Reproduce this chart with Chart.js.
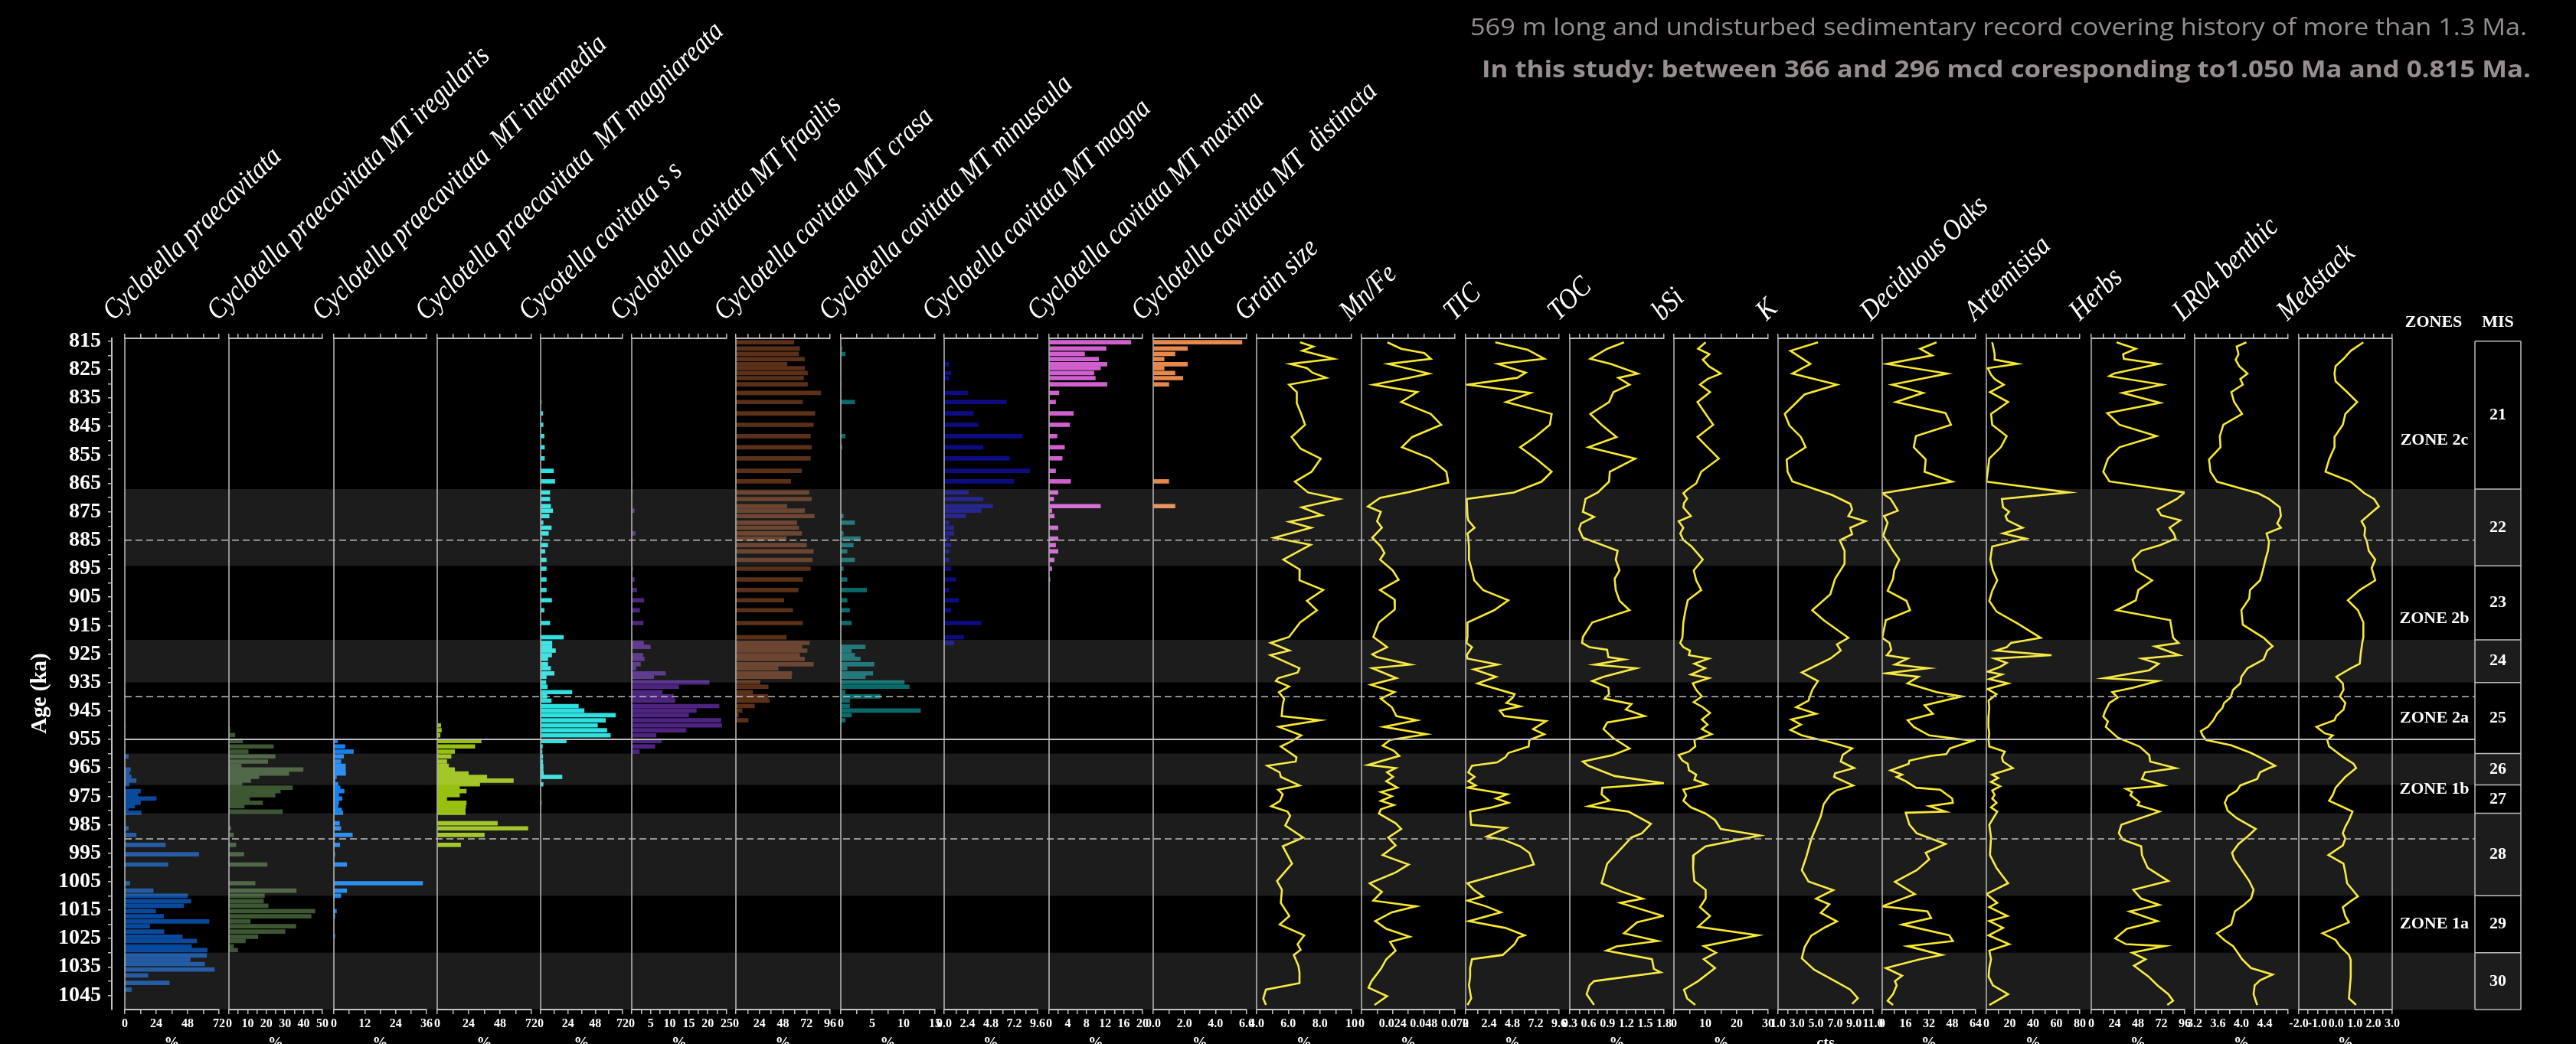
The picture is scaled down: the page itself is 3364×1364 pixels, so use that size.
<!DOCTYPE html>
<html>
<head>
<meta charset="utf-8">
<script src="https://cdn.jsdelivr.net/npm/chart.js@4.4.1/dist/chart.umd.min.js"></script>
<style>
  html, body { margin: 0; padding: 0; background: #000; overflow: hidden; }
  #page { position: relative; width: 3364px; height: 1364px; background: #000; }
  .panel { position: absolute; top: 400px; }
  #frame { position: absolute; left: 0; top: 0; pointer-events: none; }
</style>
</head>
<body>
<div id="page"></div>
<script>
// ---------- age axis, zones, marine isotope stages ----------
const ageLabels = ['815','825','835','845','855','865','875','885','895','905','915','925','935','945','955','965','975','985','995','1005','1015','1025','1035','1045'];
const zoneNames = ['ZONE 2c', 'ZONE 2b', 'ZONE 2a', 'ZONE 1b', 'ZONE 1a'];
const zoneTops = [815, 885, 940, 955, 990];
const zoneBottoms = [885, 940, 955, 990, 1050];
const zoneLineSolid = [false, false, true, false]; // boundaries at 885, 940, 955, 990
const misNames = ['21', '22', '23', '24', '25', '26', '27', '28', '29', '30'];
const misTops = [815, 867, 894, 920, 935, 960, 971, 981, 1010, 1030];
const misBottoms = [867, 894, 920, 935, 960, 971, 981, 1010, 1030, 1050];

// ---------- diatoms (%) ----------
const praecavitataAge = [950.1, 957.5, 961.0, 965.6, 967.0, 968.2, 969.5, 970.8, 973.2, 974.6, 975.8, 977.3, 978.5, 979.8, 980.8, 984.5, 986.3, 988.6, 992.1, 995.4, 999.0, 1005.6, 1008.2, 1010.0, 1011.9, 1013.5, 1015.4, 1017.2, 1019.0, 1020.7, 1022.6, 1024.4, 1025.9, 1027.8, 1029.1, 1031.0, 1032.5, 1034.0, 1035.9, 1038.0, 1040.6, 1043.0, 1045.8];
const praecavitataVal = [0.5, 0.5, 2.7, 4.3, 3.3, 4.9, 8.7, 3.3, 12, 10, 24, 12, 7.6, 2.7, 12.5, 0.5, 2.7, 8.7, 31, 56.5, 33, 3.8, 21.7, 48, 50.5, 45, 23.6, 29.6, 64.4, 19, 30, 44, 55, 51, 63, 62.5, 50, 61, 68.5, 17.7, 34, 5, 0.5];

const iregularisAge = [951.4, 953.5, 955.6, 957.5, 959.3, 961.0, 962.8, 964.3, 965.6, 967.0, 968.2, 969.5, 970.8, 972.0, 973.2, 974.6, 975.8, 977.3, 978.5, 980.4, 986.3, 988.6, 992.1, 995.4, 999.0, 1005.6, 1008.2, 1010.0, 1011.9, 1013.5, 1015.4, 1017.2, 1019.0, 1020.7, 1022.6, 1024.4, 1025.9, 1027.8, 1029.1];
const iregularisVal = [0.5, 3.2, 7.3, 23.8, 10.3, 24.7, 20.8, 6.6, 39.7, 32, 16, 11.6, 7, 34, 27.5, 24.7, 11, 18, 8.2, 28.6, 1, 2.4, 3.7, 7.9, 20.4, 14, 36, 19, 18.5, 21, 46, 44, 11.4, 35.8, 30, 15.5, 8.8, 2.4, 4.7];

const intermediaAge = [955.6, 957.5, 959.3, 961.0, 962.8, 964.3, 965.6, 967.0, 968.2, 969.5, 970.8, 972.0, 973.2, 974.6, 975.8, 977.3, 978.5, 979.8, 980.8, 984.5, 986.3, 988.6, 992.1, 995.4, 999.0, 1005.6, 1008.2, 1010.0, 1015.4, 1017.2, 1024.2];
const intermediaVal = [1.4, 4.3, 7.6, 3.8, 2.7, 4.5, 4.5, 4.6, 1, 0.5, 1.6, 2.4, 4, 1.9, 3.2, 1.9, 1.6, 3, 3.5, 2.2, 2.7, 7.2, 2.3, 0.4, 5, 34.5, 5, 2.7, 1, 0.4, 0.4];

const magniareataAge = [950.1, 951.8, 953.6, 955.6, 957.5, 959.3, 961.0, 962.8, 964.3, 965.6, 967.0, 968.2, 969.5, 970.8, 972.0, 973.2, 974.6, 975.8, 977.3, 978.5, 979.8, 980.8, 984.5, 986.3, 988.6, 992.1];
const magniareataVal = [2.7, 3.2, 2.2, 33.6, 28.7, 13.3, 10.6, 7.3, 8.7, 13.3, 23.8, 37.9, 58.2, 32.5, 17, 22.2, 17, 7.3, 22.2, 21.7, 21.4, 21.4, 46, 69.3, 36, 17.9];

const cavitataAge = [836.4, 840.4, 844.4, 848.4, 852.3, 856.2, 860.6, 864.3, 868.2, 870.5, 873.0, 874.6, 876.5, 878.8, 880.6, 882.6, 884.4, 886.7, 888.9, 891.9, 895.0, 898.8, 902.5, 906.1, 909.6, 914.1, 919.1, 921.1, 922.5, 923.8, 925.4, 926.7, 928.6, 930.0, 931.8, 933.0, 935.0, 936.5, 938.4, 939.9, 941.4, 943.3, 944.9, 946.5, 948.3, 950.1, 951.8, 953.6, 955.6, 957.5, 959.3, 961.0, 962.8, 964.3, 965.6, 967.0, 968.2, 970.8, 977.3];
const cavitataVal = [0.6, 1.9, 2.2, 3.1, 3.4, 3.4, 11.3, 12.5, 8.1, 8.1, 8.8, 10.6, 7.5, 2.2, 9.4, 6.9, 1.3, 6.3, 3.8, 5, 5, 5, 5, 9.7, 3.1, 8.1, 20, 10, 10, 13.1, 9.7, 6.3, 6.3, 8.8, 11.9, 5, 4.7, 5.9, 27.5, 5.6, 9.4, 33.2, 38.2, 65.7, 57, 50, 58.2, 61.3, 22.5, 1.6, 1.3, 1.9, 1.9, 2.2, 2.2, 2.5, 18.8, 2.2, 0.6];

const fragilisAge = [864.3, 868.2, 874.6, 882.6, 895.0, 898.8, 902.5, 906.1, 909.6, 914.1, 921.1, 922.5, 925.4, 926.7, 928.6, 930.0, 931.8, 933.0, 935.0, 936.5, 938.4, 939.9, 941.4, 943.3, 944.9, 946.5, 948.3, 950.1, 951.8, 953.6, 955.6, 957.5, 959.3];
const fragilisVal = [0.2, 0.2, 0.7, 0.9, 0.3, 0.7, 1.3, 3.2, 2.1, 3, 3.1, 4.9, 2.9, 3.3, 2.3, 1.1, 8.9, 5.8, 20.4, 12.4, 8, 11, 11.4, 23, 17, 15, 23.5, 23.7, 14.3, 6.4, 7.8, 6.1, 2];

const crasaAge = [815.4, 817.6, 819.5, 821.3, 823.1, 824.5, 826.2, 828.0, 830.2, 833.2, 836.4, 840.4, 844.4, 848.4, 852.3, 856.2, 860.6, 864.3, 868.2, 870.5, 873.0, 874.6, 876.5, 878.8, 880.6, 882.6, 884.4, 886.7, 888.9, 891.9, 895.0, 898.8, 902.5, 906.1, 909.6, 914.1, 919.1, 921.1, 922.5, 923.8, 925.4, 926.7, 928.6, 930.0, 931.8, 933.0, 935.0, 936.5, 938.4, 939.9, 941.4, 943.3, 944.9, 946.5, 948.3];
const crasaVal = [59, 65, 64, 70, 52, 70, 73, 69, 73, 86.6, 68, 80.5, 79, 76, 77, 76, 67, 56, 74.5, 77, 52, 70, 80, 62, 64, 67, 51.4, 72, 79, 78, 76, 68, 63.5, 49, 58, 68, 51.4, 75, 67.3, 72.6, 65, 70, 79, 43, 57, 56.6, 24.6, 33, 17, 32.5, 34, 19, 6.4, 2.6, 12.5];

const minusculaAge = [817.6, 819.5, 830.2, 836.4, 848.4, 852.3, 876.5, 878.8, 882.6, 884.4, 886.7, 888.9, 891.9, 895.0, 898.8, 902.5, 906.1, 909.6, 914.1, 922.5, 923.8, 925.4, 926.7, 928.6, 930.0, 931.8, 933.0, 935.0, 936.5, 938.4, 939.9, 941.4, 943.3, 944.9, 946.5, 948.3];
const minusculaVal = [0.2, 0.7, 0.1, 2.2, 0.7, 0.2, 0.4, 2.2, 0.4, 3.1, 2, 1, 2.2, 0.4, 1, 4.1, 1, 1.4, 1.7, 3.9, 1.7, 2.2, 3.1, 5.3, 1, 5.1, 3.9, 10.1, 10.9, 0.7, 6.3, 1.4, 1.4, 12.7, 1.7, 0.7];

const magnaAge = [823.1, 826.2, 828.0, 833.2, 836.4, 840.4, 844.4, 848.4, 852.3, 856.2, 860.6, 864.3, 868.2, 870.5, 873.0, 874.6, 876.5, 878.8, 880.6, 882.6, 884.4, 886.7, 888.9, 891.9, 895.0, 898.8, 902.5, 906.1, 909.6, 914.1, 919.1, 921.1];
const magnaVal = [0.5, 0.7, 0.5, 2.4, 6.4, 3, 3.5, 8, 4, 6.7, 8.8, 7.2, 2.5, 4, 5, 3.8, 2.2, 0.5, 1, 1, 0.5, 0.7, 0.5, 0.5, 0.7, 1.2, 0.5, 1.5, 0.7, 3.8, 2, 1];

const maximaAge = [815.4, 817.6, 819.5, 821.3, 823.1, 824.5, 826.2, 828.0, 830.2, 833.2, 836.4, 840.4, 844.4, 848.4, 852.3, 856.2, 860.6, 864.3, 868.2, 870.5, 873.0, 874.6, 876.5, 880.6, 884.4, 886.7, 888.9, 891.9, 895.0, 898.8];
const maximaVal = [17.5, 12.2, 7.6, 10.6, 12.4, 11, 9.6, 9.9, 12.4, 2.1, 1.4, 5.2, 4.4, 1.7, 3.3, 2.8, 1.4, 4.6, 1.9, 1, 11, 0.6, 1.1, 1.9, 1.9, 1.4, 1.9, 1.1, 0.6, 0.2];

const distinctaAge = [815.4, 817.6, 819.5, 821.3, 823.1, 824.5, 826.2, 828.0, 830.2, 864.3, 873.0];
const distinctaVal = [5.7, 2.2, 1.4, 0.7, 2.2, 0.7, 1.4, 1.9, 1, 1, 1.4];

// ---------- sediment, pollen and reference curves ----------
const grainAge = [815.4, 816.9, 818.4, 821.2, 823.0, 824.5, 826.1, 827.9, 830.3, 832.9, 836.8, 840.6, 844.4, 848.7, 852.8, 856.3, 860.9, 864.4, 868.2, 870.5, 873.4, 876.2, 878.5, 880.6, 884.1, 886.6, 891.8, 895.3, 899.1, 902.5, 906.3, 909.6, 913.9, 919.0, 921.1, 923.8, 925.4, 930.0, 931.5, 933.5, 934.5, 936.4, 938.4, 940.7, 942.9, 946.8, 948.3, 950.6, 953.6, 955.9, 957.5, 961.3, 962.8, 964.3, 966.6, 968.2, 971.2, 972.7, 974.3, 976.6, 978.5, 980.4, 981.9, 985.3, 989.5, 992.6, 998.7, 1004.8, 1007.9, 1012.5, 1017.1, 1020.1, 1023.9, 1027.0, 1029.0, 1030.8, 1034.6, 1036.9, 1040.7, 1043.0, 1046.1, 1048.4];
const grainVal = [6.75, 7.58, 6.89, 8.87, 6.12, 7.18, 7.53, 8.40, 6.05, 6.54, 6.54, 6.82, 7.06, 6.21, 6.78, 8.05, 7.48, 6.42, 7.25, 9.22, 6.85, 8.12, 6.07, 7.44, 5.11, 7.41, 5.69, 6.73, 6.71, 8.21, 7.18, 7.81, 6.75, 6.05, 4.89, 6.07, 4.87, 6.71, 6.59, 5.36, 5.22, 6.05, 5.41, 5.74, 5.65, 5.58, 8.0, 5.41, 6.82, 6.12, 5.53, 6.52, 6.47, 4.68, 5.46, 5.53, 6.71, 5.36, 5.65, 5.48, 4.92, 5.95, 6.12, 5.81, 6.94, 5.65, 6.24, 5.29, 5.6, 5.53, 6.07, 5.46, 7.01, 6.59, 6.78, 6.35, 6.64, 6.71, 6.71, 4.59, 4.42, 4.59];

const mnfeAge = [815.4, 817.7, 819.2, 821.2, 823.0, 826.4, 827.9, 830.3, 832.9, 836.4, 840.6, 844.4, 848.7, 852.3, 856.2, 860.9, 864.7, 868.1, 870.1, 873.1, 875.0, 878.3, 880.6, 884.1, 887.2, 889.5, 891.8, 895.6, 898.9, 902.5, 905.8, 909.3, 913.9, 919.0, 921.1, 922.6, 925.1, 926.1, 928.7, 930.0, 933.5, 935.8, 938.4, 940.7, 943.7, 946.8, 948.3, 950.6, 953.2, 955.2, 957.2, 959.0, 960.8, 964.0, 965.1, 966.6, 968.2, 969.7, 972.0, 973.5, 975.0, 976.6, 978.1, 979.6, 981.1, 984.5, 986.5, 989.5, 992.3, 995.7, 999.0, 1001.8, 1005.6, 1008.6, 1011.7, 1013.7, 1015.8, 1018.9, 1021.6, 1024.4, 1026.2, 1029.3, 1032.3, 1035.7, 1040.0, 1042.3, 1045.3, 1048.4];
const mnfeVal = [0.020, 0.0306, 0.0483, 0.0534, 0.0206, 0.052, 0.0363, 0.0091, 0.0429, 0.0306, 0.0534, 0.0614, 0.0391, 0.0311, 0.0529, 0.0654, 0.0669, 0.0363, 0.0143, 0.0049, 0.0149, 0.012, 0.0157, 0.0083, 0.0149, 0.0177, 0.0143, 0.024, 0.0286, 0.0143, 0.0254, 0.0257, 0.0134, 0.0091, 0.0154, 0.0197, 0.0083, 0.012, 0.0377, 0.0083, 0.0269, 0.0071, 0.0254, 0.0149, 0.0234, 0.0269, 0.0426, 0.0171, 0.05, 0.022, 0.0163, 0.0249, 0.0291, 0.0049, 0.0263, 0.0197, 0.0243, 0.0191, 0.0277, 0.0149, 0.0234, 0.0149, 0.0249, 0.0149, 0.0134, 0.0263, 0.0306, 0.0206, 0.0263, 0.0163, 0.0363, 0.0263, 0.0063, 0.0157, 0.0091, 0.042, 0.0234, 0.0106, 0.0191, 0.0371, 0.022, 0.0263, 0.0191, 0.0149, 0.0077, 0.0054, 0.0197, 0.01];

const ticAge = [815.4, 818.0, 821.2, 823.0, 826.1, 827.9, 830.3, 833.2, 836.4, 840.6, 844.4, 848.7, 852.3, 856.6, 860.9, 864.4, 868.2, 870.5, 876.5, 878.0, 880.6, 882.6, 884.1, 887.2, 891.8, 895.6, 899.1, 902.5, 906.1, 909.6, 913.9, 919.0, 921.1, 922.6, 925.4, 926.6, 928.7, 930.4, 933.0, 935.3, 939.1, 940.3, 942.2, 943.4, 944.9, 946.8, 948.6, 951.4, 953.2, 955.2, 957.5, 959.8, 961.3, 963.1, 964.3, 966.6, 968.2, 969.7, 971.2, 972.0, 974.3, 975.8, 977.3, 978.9, 980.4, 985.0, 986.2, 989.2, 990.3, 992.6, 994.9, 999.0, 1005.6, 1007.9, 1010.2, 1011.7, 1013.7, 1015.8, 1018.9, 1021.3, 1023.9, 1024.7, 1027.0, 1030.8, 1032.3, 1035.4, 1038.4, 1041.5, 1046.1, 1048.4];
const ticVal = [3.05, 6.36, 8.08, 3.31, 6.17, 5.30, 0.19, 6.67, 4.15, 8.84, 8.65, 7.12, 5.60, 7.32, 8.84, 7.81, 4.95, 0.11, 0.19, 0.27, 0.91, 0.19, 0.27, 0.34, 0.34, 0.65, 0.88, 1.79, 4.38, 2.93, 0.19, 0.19, 0.08, 0.65, 0.11, 0.19, 3.31, 0.84, 3.12, 1.22, 5.03, 4.84, 4.19, 5.60, 3.51, 3.96, 8.27, 6.93, 8.08, 6.55, 6.48, 4.38, 4.08, 3.24, 0.65, 0.27, 0.91, 0.27, 1.03, 0.19, 4.27, 3.12, 4.38, 2.74, 0.46, 0.57, 4.15, 2.17, 3.89, 5.60, 6.55, 7.01, 0.19, 0.84, 1.79, 0.19, 2.10, 3.62, 0.34, 4.08, 6.06, 5.41, 5.03, 3.81, 0.65, 0.46, 0.46, 0.34, 0.57, 0.19];

const tocAge = [815.4, 817.7, 821.2, 823.0, 826.4, 827.9, 830.3, 832.9, 836.4, 840.6, 844.4, 848.7, 852.3, 856.3, 860.9, 864.4, 868.2, 870.5, 873.1, 875.0, 876.8, 879.1, 881.1, 884.1, 888.7, 891.8, 895.6, 898.6, 902.5, 906.3, 909.6, 913.9, 919.0, 921.1, 922.6, 923.5, 926.1, 926.9, 928.7, 930.0, 933.0, 934.5, 936.8, 939.1, 940.7, 942.6, 944.5, 946.8, 949.1, 951.4, 954.4, 958.2, 960.5, 962.8, 964.3, 967.9, 970.4, 972.0, 974.3, 976.6, 978.5, 980.4, 984.7, 988.0, 989.5, 998.7, 1005.6, 1008.6, 1011.0, 1012.5, 1017.1, 1019.3, 1023.2, 1025.9, 1027.8, 1029.3, 1032.3, 1035.7, 1036.9, 1040.0, 1041.5, 1044.6, 1048.4];
const tocVal = [1.163, 0.895, 0.627, 0.955, 1.383, 1.074, 1.252, 0.996, 0.925, 0.627, 0.806, 1.044, 0.598, 1.342, 0.937, 0.925, 0.746, 0.55, 0.526, 0.508, 0.687, 0.479, 0.449, 0.508, 1.062, 1.032, 1.092, 1.014, 1.032, 1.092, 1.252, 0.657, 0.508, 0.496, 0.615, 0.895, 0.913, 1.163, 0.699, 1.354, 0.836, 0.657, 0.913, 0.925, 0.854, 1.282, 1.193, 1.49, 0.895, 0.836, 0.984, 1.252, 0.984, 0.508, 0.598, 1.014, 1.794, 0.818, 0.806, 0.925, 0.598, 1.234, 1.592, 1.449, 1.282, 0.895, 0.806, 1.133, 1.46, 1.104, 1.788, 1.371, 1.163, 1.699, 1.044, 0.883, 1.609, 1.639, 1.746, 0.687, 0.615, 0.568, 0.687];

const bsiAge = [815.4, 817.7, 819.6, 821.5, 823.8, 826.4, 828.3, 830.3, 832.9, 836.4, 840.6, 844.4, 848.7, 852.3, 856.3, 860.9, 865.0, 867.3, 868.5, 870.4, 871.9, 873.4, 876.5, 878.3, 880.6, 882.6, 884.9, 887.2, 891.8, 895.6, 899.1, 902.5, 906.1, 910.1, 913.9, 919.3, 921.1, 922.6, 923.8, 925.4, 926.6, 928.4, 930.0, 932.2, 933.5, 935.3, 937.6, 939.9, 941.9, 943.7, 945.7, 948.0, 949.8, 951.4, 953.2, 955.2, 957.5, 959.3, 960.5, 962.5, 963.6, 965.9, 967.4, 969.2, 970.8, 972.7, 974.7, 976.6, 978.9, 981.1, 983.4, 986.5, 988.8, 992.6, 995.7, 1000.2, 1004.8, 1007.9, 1011.0, 1014.0, 1017.1, 1020.9, 1023.9, 1027.7, 1030.0, 1032.3, 1035.4, 1040.0, 1043.0, 1046.1, 1048.4];
const bsiVal = [10.1, 7.7, 11.3, 9.2, 11.1, 14.9, 10.7, 8.3, 11.5, 7.5, 10.1, 12.5, 7.5, 10.7, 14.3, 8.7, 7.1, 4.2, 3.0, 4.2, 3.2, 3.0, 5.4, 1.5, 3.0, 2.0, 3.0, 5.6, 9.2, 6.3, 7.1, 8.7, 4.4, 3.6, 3.0, 2.7, 2.0, 3.0, 5.1, 4.8, 11.1, 6.5, 9.9, 5.4, 11.1, 6.0, 7.1, 8.9, 6.3, 9.2, 11.5, 8.9, 10.7, 8.9, 12.0, 6.5, 6.8, 4.8, 1.5, 2.7, 4.4, 4.8, 7.1, 6.5, 10.4, 3.0, 3.9, 3.0, 5.4, 10.1, 13.1, 14.9, 27.4, 10.1, 6.3, 6.1, 6.5, 10.1, 10.1, 8.3, 11.5, 7.7, 26.8, 9.5, 13.4, 9.5, 13.1, 7.7, 3.2, 4.2, 6.8];

const kAge = [815.4, 818.4, 823.0, 826.4, 830.3, 833.7, 840.6, 844.7, 848.7, 852.3, 856.6, 860.9, 864.3, 869.1, 872.2, 874.2, 876.5, 878.3, 880.6, 882.9, 885.0, 888.7, 893.3, 898.6, 904.0, 909.6, 913.1, 919.3, 921.6, 923.8, 926.6, 931.5, 934.5, 937.6, 941.4, 943.7, 946.0, 948.0, 949.8, 951.7, 953.6, 956.0, 958.2, 960.5, 962.8, 965.1, 966.9, 968.2, 971.2, 973.0, 974.5, 977.8, 982, 986, 990, 996, 1001, 1005, 1008, 1011, 1013, 1016, 1019, 1021, 1024, 1028, 1032, 1036, 1040, 1043, 1046, 1048];
const kVal = [5.2, 2.3, 4.4, 2.5, 7.2, 3.8, 1.7, 2.2, 3.4, 3.9, 1.9, 2.0, 2.5, 6.7, 8.6, 8.8, 8.4, 10.2, 8.6, 8.8, 7.5, 8.0, 8.0, 7.0, 6.5, 4.6, 5.8, 8.4, 7.2, 7.6, 6.5, 3.5, 5.2, 4.6, 4.2, 2.9, 5.0, 2.4, 3.4, 2.3, 3.5, 6.5, 8.8, 7.8, 7.6, 9.0, 7.0, 6.9, 8.9, 7.1, 6.5, 5.8, 5.5, 5.0, 4.5, 4.0, 3.5, 4.2, 6.8, 5.0, 6.4, 5.5, 7.2, 6.0, 4.5, 3.8, 3.5, 4.8, 7.0, 8.6, 9.4, 8.8];

const oaksAge = [815.4, 817.7, 820.0, 823.0, 826.4, 830.3, 833.2, 836.4, 840.3, 844.4, 848.4, 852.3, 856.6, 860.9, 864.4, 868.5, 870.4, 874.6, 876.5, 878.8, 880.6, 883.4, 885.6, 888.7, 891.8, 895.6, 898.6, 902.8, 906.3, 909.6, 913.1, 919.3, 921.1, 923.5, 925.4, 926.6, 928.7, 930.0, 931.8, 933.0, 935.3, 938.4, 939.9, 943.0, 946.0, 948.3, 950.6, 953.6, 955.5, 958.2, 960.2, 960.8, 962.5, 963.6, 965.9, 967.4, 968.2, 969.7, 972.0, 972.7, 975.8, 977.3, 978.5, 980.4, 980.8, 985.0, 988.0, 991.8, 994.9, 997.2, 1001.0, 1005.1, 1009.4, 1013.7, 1015.5, 1017.8, 1020.1, 1023.9, 1025.9, 1027.7, 1030.8, 1032.3, 1035.4, 1038.1, 1040.0, 1041.5, 1044.6, 1046.9, 1048.4];
const oaksVal = [37.2, 26.0, 34.2, 3.2, 44.6, 6.7, 28.0, 9.4, 43.4, 47.1, 23.1, 21.6, 29.8, 29.0, 47.9, 0, 5.7, 10.7, 1.2, 3.7, 2.5, 0.7, 3.7, 7.4, 11.7, 8.2, 7.4, 3.7, 16.6, 19.1, 2.5, 0, 5.0, 6.2, 3.2, 17.4, 8.7, 31.5, 2.5, 24.8, 17.4, 37.2, 54.6, 29.0, 34.7, 17.4, 21.6, 32.2, 62.0, 46.4, 43.9, 33.5, 18.6, 18.1, 5.7, 13.6, 9.9, 16.1, 23.1, 39.7, 47.9, 48.4, 32.2, 43.4, 16.1, 18.6, 23.6, 43.4, 29.8, 32.2, 23.6, 8.7, 22.3, 0, 31.0, 33.5, 13.6, 45.9, 48.4, 17.4, 40.9, 26.0, 2.5, 13.6, 8.7, 9.9, 7.4, 3.7, 7.4];

const artemisiaAge = [815.4, 817.7, 819.6, 821.5, 823.0, 824.5, 826.8, 828.3, 830.3, 832.9, 836.4, 840.6, 844.4, 848.4, 852.3, 856.3, 860.9, 864.4, 868.2, 870.5, 873.4, 875.0, 876.5, 878.0, 880.6, 882.6, 884.4, 887.2, 891.8, 895.6, 899.1, 902.8, 906.3, 910.1, 914.4, 919.3, 921.1, 922.6, 923.8, 925.4, 926.6, 928.1, 929.5, 931.2, 932.2, 933.8, 935.3, 937.3, 939.1, 941.4, 943.7, 946.8, 949.1, 950.6, 952.9, 955.2, 957.5, 959.3, 961.3, 962.8, 965.1, 967.4, 968.6, 970.0, 971.5, 973.0, 974.5, 975.8, 977.3, 978.9, 980.4, 985.0, 989.5, 995.7, 1000.2, 1005.6, 1009.4, 1012.5, 1014.0, 1017.1, 1018.9, 1021.3, 1023.9, 1027.0, 1029.3, 1032.3, 1035.4, 1038.4, 1041.5, 1044.6, 1048.4];
const artemisiaVal = [5.0, 6.2, 7.1, 7.1, 26.7, 1.2, 4.0, 7.1, 14.9, 3.1, 18.6, 4.0, 5.0, 17.4, 12.4, 2.5, 1.2, 0, 70.7, 13.3, 14.3, 19.5, 16.4, 18.0, 31.0, 14.3, 33.5, 5.0, 3.4, 5.6, 9.3, 5.0, 2.5, 8.7, 27.3, 46.5, 21.1, 17.4, 8.1, 55.8, 7.1, 17.4, 11.8, 0.9, 13.3, 2.5, 18.6, 0.9, 8.7, 1.9, 2.5, 1.9, 1.9, 1.6, 2.5, 1.9, 2.5, 15.8, 13.3, 14.3, 22.6, 5.0, 10.2, 4.0, 11.8, 5.0, 7.1, 5.0, 8.7, 4.0, 9.3, 2.5, 4.0, 3.1, 8.7, 18.6, 0, 9.3, 2.5, 18.0, 2.5, 14.3, 1.9, 19.5, 2.5, 4.0, 2.5, 1.9, 5.6, 18.6, 2.5];

const herbsAge = [815.4, 817.7, 819.6, 821.2, 823.0, 826.4, 827.3, 830.3, 833.2, 836.7, 840.3, 844.4, 848.4, 852.3, 856.3, 860.9, 864.3, 868.2, 870.5, 874.2, 876.2, 878.0, 880.6, 882.6, 884.4, 886.7, 888.7, 891.8, 894.1, 895.6, 899.1, 902.5, 906.1, 909.6, 913.1, 919.3, 921.1, 922.3, 925.4, 926.6, 928.4, 930.7, 933.5, 934.5, 936.8, 938.4, 940.3, 942.2, 945.2, 947.0, 948.7, 950.6, 954.4, 957.5, 960.5, 962.8, 965.1, 966.6, 968.9, 971.2, 972.4, 973.5, 974.6, 977.0, 978.1, 980.4, 985.0, 988.0, 990.3, 992.6, 995.7, 1000.2, 1004.8, 1007.9, 1011.0, 1013.2, 1015.5, 1018.9, 1021.6, 1025.0, 1027.0, 1027.7, 1030.0, 1032.3, 1034.6, 1038.4, 1041.5, 1044.6, 1046.9, 1048.4];
const herbsVal = [26.0, 45.8, 32.7, 33.5, 69.2, 23.4, 18.6, 72.9, 32.0, 70.7, 16.4, 29.0, 67.0, 29.0, 17.1, 12.3, 18.6, 96.0, 87.8, 68.1, 71.8, 91.5, 80.4, 84.8, 86.7, 70.7, 51.3, 42.4, 44.6, 45.8, 62.5, 48.4, 45.8, 26.0, 81.1, 84.1, 89.7, 65.5, 90.4, 52.1, 69.2, 59.5, 13.4, 68.1, 43.9, 21.6, 27.2, 18.6, 14.1, 12.3, 17.1, 14.9, 27.2, 49.5, 59.5, 60.6, 86.7, 55.1, 52.1, 74.4, 35.7, 42.0, 40.2, 49.5, 47.6, 69.9, 30.9, 28.3, 32.7, 51.3, 52.1, 58.0, 79.2, 43.2, 51.3, 69.9, 39.4, 68.1, 36.5, 24.6, 35.7, 75.5, 42.0, 55.8, 43.9, 58.8, 68.1, 79.2, 84.1, 78.1];

const lr04Age = [815.4, 816.9, 819.6, 821.5, 823.8, 826.4, 828.3, 830.3, 832.9, 836.4, 840.6, 844.4, 848.4, 852.3, 856.6, 860.9, 864.4, 868.5, 870.5, 873.4, 876.5, 879.1, 880.6, 882.6, 885.6, 888.7, 891.8, 895.6, 899.1, 902.5, 905.5, 909.6, 914.7, 919.3, 922.3, 923.8, 926.9, 930.0, 933.0, 935.3, 937.6, 940.3, 942.2, 944.0, 946.0, 948.3, 950.6, 952.1, 953.6, 955.2, 957.1, 959.8, 961.7, 964.3, 965.1, 966.6, 968.9, 971.2, 973.1, 975.0, 977.3, 980.1, 982.7, 986.5, 989.2, 991.8, 994.9, 997.2, 1000.2, 1004.8, 1007.9, 1011.0, 1013.2, 1015.5, 1020.1, 1023.2, 1025.5, 1027.7, 1030.0, 1032.3, 1035.4, 1037.7, 1039.7, 1041.5, 1044.6, 1048.4];
const lr04Val = [4.086, 3.92, 3.951, 3.902, 3.963, 4.105, 3.982, 4.025, 3.828, 3.877, 4.012, 3.692, 3.631, 3.643, 3.446, 3.471, 3.582, 4.289, 4.474, 4.658, 4.677, 4.615, 4.677, 4.431, 4.474, 4.455, 4.412, 4.369, 4.32, 4.148, 4.135, 4.0, 4.025, 4.382, 4.535, 4.443, 4.382, 4.105, 4.0, 3.982, 3.858, 3.815, 3.705, 3.674, 3.582, 3.52, 3.428, 3.305, 3.335, 3.397, 3.828, 4.166, 4.351, 4.578, 4.474, 4.32, 4.271, 3.982, 3.92, 3.766, 3.717, 3.766, 3.92, 4.246, 4.105, 3.951, 3.84, 3.877, 3.982, 4.135, 4.209, 4.166, 4.043, 3.889, 3.828, 3.582, 3.705, 3.858, 3.938, 4.012, 4.166, 4.535, 4.32, 4.228, 4.209, 4.271];

const medstackAge = [815.4, 818.4, 821.2, 823.8, 826.4, 829.1, 832.9, 836.4, 840.6, 844.4, 848.7, 852.3, 856.6, 860.9, 864.4, 868.5, 870.5, 873.1, 875.0, 878.3, 880.6, 883.4, 885.6, 888.7, 891.8, 894.8, 899.1, 902.5, 906.1, 909.6, 913.9, 919.0, 921.1, 924.6, 928.4, 930.0, 933.0, 935.3, 937.6, 939.9, 942.2, 944.5, 946.8, 948.3, 950.6, 952.9, 953.6, 955.2, 957.5, 961.3, 963.6, 965.1, 968.2, 972.0, 974.6, 976.6, 978.9, 980.4, 983.4, 985.7, 988.0, 989.9, 992.3, 995.7, 998.7, 1001.8, 1005.6, 1010.2, 1011.7, 1014.0, 1017.1, 1019.3, 1020.9, 1023.2, 1025.5, 1027.7, 1030.8, 1032.6, 1036.1, 1038.4, 1041.5, 1046.1, 1048.4];
const medstackVal = [1.455, 0.779, 0.393, -0.031, -0.089, -0.031, 0.586, 1.127, 0.49, 0.355, -0.089, -0.089, -0.379, -0.572, 0.779, 1.513, 2.034, 2.285, 1.937, 1.358, 1.551, 1.513, 1.648, 1.744, 2.092, 1.899, 2.092, 1.262, 0.625, 1.165, 1.455, 1.455, 1.397, 1.32, 1.262, 0.779, 0.007, 0.355, 0.393, 0.2, 0.49, 0.393, 0.007, -0.089, -1.054, -0.61, -0.186, -0.475, -0.379, 0.393, 0.934, 1.069, 0.49, -0.031, -0.186, -0.379, 0.393, 0.876, 0.683, 0.49, 0.355, 0.49, 0.355, -0.417, 0.393, 0.49, 0.586, 1.165, 0.818, 0.355, 0.49, 0.683, 0.104, -0.727, -0.031, 0.2, 0.683, 0.779, 0.779, 0.779, 0.741, 0.683, 1.069];

// ---------- layout ----------
const AGE_MIN = 814, AGE_MAX = 1050;
const AXIS_COL = '#bdbdbd';
const LINE_COL = '#f8e830';
const PAD = 26;
const SERIF = '"Liberation Serif", "Times New Roman", serif';
const ZONE_L = 3124, MIS_L = 3232, MIS_R = 3292;

const panels = [
  {title: 'Cyclotella praecavitata', left: 163, width: 123, kind: 'bar', color: '#0a4a9c', ages: praecavitataAge, vals: praecavitataVal, min: 0, max: 72, step: 12, labels: ['0','24','48','72'], unit: '%'},
  {title: 'Cyclotella praecavitata MT iregularis', left: 299, width: 122, kind: 'bar', color: '#3c5732', ages: iregularisAge, vals: iregularisVal, min: 0, max: 50, step: 5, labels: ['0','10','20','30','40','50'], unit: '%'},
  {title: 'Cyclotella praecavitata  MT intermedia', left: 436, width: 121, kind: 'bar', color: '#1682ee', ages: intermediaAge, vals: intermediaVal, min: 0, max: 36, step: 6, labels: ['0','12','24','36'], unit: '%'},
  {title: 'Cyclotella praecavitata  MT magniareata', left: 571, width: 123, kind: 'bar', color: '#98c010', ages: magniareataAge, vals: magniareataVal, min: 0, max: 72, step: 12, labels: ['0','24','48','72'], unit: '%'},
  {title: 'Cycotella cavitata s s', left: 706, width: 107, kind: 'bar', color: '#2ee0e0', ages: cavitataAge, vals: cavitataVal, min: 0, max: 72, step: 12, labels: ['0','24','48','72'], unit: '%'},
  {title: 'Cyclotella cavitata MT fragilis', left: 825, width: 124, kind: 'bar', color: '#4d2580', ages: fragilisAge, vals: fragilisVal, min: 0, max: 25, step: 2.5, labels: ['0','5','10','15','20','25'], unit: '%'},
  {title: 'Cyclotella cavitata MT crasa', left: 961, width: 123, kind: 'bar', color: '#5a3018', ages: crasaAge, vals: crasaVal, min: 0, max: 96, step: 12, labels: ['0','24','48','72','96'], unit: '%'},
  {title: 'Cyclotella cavitata MT minuscula', left: 1098, width: 123, kind: 'bar', color: '#0a6a6a', ages: minusculaAge, vals: minusculaVal, min: 0, max: 15, step: 2.5, labels: ['0','5','10','15'], unit: '%'},
  {title: 'Cyclotella cavitata MT magna', left: 1233, width: 122, kind: 'bar', color: '#0c0c82', ages: magnaAge, vals: magnaVal, min: 0, max: 9.6, step: 1.2, labels: ['0.0','2.4','4.8','7.2','9.6'], unit: '%'},
  {title: 'Cyclotella cavitata MT maxima', left: 1370, width: 122, kind: 'bar', color: '#d060d0', ages: maximaAge, vals: maximaVal, min: 0, max: 20, step: 2, labels: ['0','4','8','12','16','20'], unit: '%'},
  {title: 'Cyclotella cavitata MT  distincta', left: 1506, width: 122, kind: 'bar', color: '#e8884a', ages: distinctaAge, vals: distinctaVal, min: 0, max: 6, step: 1, labels: ['0.0','2.0','4.0','6.0'], unit: '%'},
  {title: 'Grain size', left: 1641, width: 124, kind: 'line', ages: grainAge, vals: grainVal, min: 4, max: 10, step: 1, labels: ['4.0','6.0','8.0','10'], unit: '%'},
  {title: 'Mn/Fe', left: 1778, width: 122, kind: 'line', ages: mnfeAge, vals: mnfeVal, min: 0, max: 0.072, step: 0.012, labels: ['0','0.024','0.048','0.072'], unit: '%'},
  {title: 'TIC', left: 1914, width: 122, kind: 'line', ages: ticAge, vals: ticVal, min: 0, max: 9.6, step: 1.2, labels: ['0','2.4','4.8','7.2','9.6'], unit: '%'},
  {title: 'TOC', left: 2050, width: 123, kind: 'line', ages: tocAge, vals: tocVal, min: 0.3, max: 1.8, step: 0.15, labels: ['0.3','0.6','0.9','1.2','1.5','1.8'], unit: '%'},
  {title: 'bSi', left: 2186, width: 123, kind: 'line', ages: bsiAge, vals: bsiVal, min: 0, max: 30, step: 5, labels: ['0','10','20','30'], unit: '%'},
  {title: 'K', left: 2322, width: 124, kind: 'line', ages: kAge, vals: kVal, min: 1, max: 11, step: 1, labels: ['1.0','3.0','5.0','7.0','9.0','11.0'], unit: 'cts'},
  {title: 'Deciduous Oaks', left: 2458, width: 122, kind: 'line', ages: oaksAge, vals: oaksVal, min: 0, max: 64, step: 8, labels: ['0','16','32','48','64'], unit: '%'},
  {title: 'Artemisisa', left: 2594, width: 122, kind: 'line', ages: artemisiaAge, vals: artemisiaVal, min: 0, max: 80, step: 10, labels: ['0','20','40','60','80'], unit: '%'},
  {title: 'Herbs', left: 2731, width: 122, kind: 'line', ages: herbsAge, vals: herbsVal, min: 0, max: 96, step: 12, labels: ['0','24','48','72','96'], unit: '%'},
  {title: 'LR04 benthic', left: 2866, width: 122, kind: 'line', ages: lr04Age, vals: lr04Val, min: 3.2, max: 4.8, step: 0.2, labels: ['3.2','3.6','4.0','4.4'], unit: '%'},
  {title: 'Medstack', left: 3002, width: 122, kind: 'line', ages: medstackAge, vals: medstackVal, min: -2, max: 3, step: 0.5, labels: ['-2.0','-1.0','0.0','1.0','2.0','3.0'], unit: '%'}
];

function tickValues(p) {
  const out = [];
  const n = Math.round((p.max - p.min) / p.step);
  for (let k = 0; k <= n; k++) out.push(+(p.min + k * p.step).toFixed(6));
  return out;
}
function tickLabel(p, v) {
  const hit = p.labels.find(l => Math.abs(parseFloat(l) - v) < 1e-6);
  return hit === undefined ? '' : hit;
}

const page = document.getElementById('page');

function makePanel(p) {
  const wrap = document.createElement('div');
  wrap.className = 'panel';
  wrap.style.left = (p.left - PAD) + 'px';
  const cv = document.createElement('canvas');
  cv.width = p.width + 2 * PAD;
  cv.height = 980;
  wrap.appendChild(cv);
  page.appendChild(wrap);

  const points = p.ages.map((a, k) => ({x: p.vals[k], y: a}));
  const ticks = tickValues(p);
  const dataset = p.kind === 'bar'
    ? {data: points, backgroundColor: p.color, borderWidth: 0, barThickness: 5}
    : {data: points, borderColor: LINE_COL, borderWidth: 2.6, pointRadius: 0, fill: false, tension: 0};

  new Chart(cv, {
    type: p.kind,
    data: {datasets: [dataset]},
    options: {
      responsive: false,
      animation: false,
      indexAxis: 'y',
      layout: {padding: {left: PAD, right: PAD, top: 0, bottom: 0}},
      plugins: {legend: {display: false}, tooltip: {enabled: false}},
      scales: {
        y: {type: 'linear', reverse: true, min: AGE_MIN, max: AGE_MAX, offset: false, grid: {offset: false}, display: false},
        x: {
          type: 'linear', position: 'bottom', min: p.min, max: p.max,
          afterBuildTicks: s => { s.ticks = ticks.map(v => ({value: v})); },
          afterFit: s => { s.height = 61; s.paddingLeft = 0; s.paddingRight = 0; },
          grid: {drawOnChartArea: false, drawTicks: true, tickLength: 6, color: AXIS_COL, lineWidth: 1.5},
          border: {display: true, color: AXIS_COL, width: 2},
          ticks: {
            autoSkip: false, maxRotation: 0, padding: 3, color: '#ffffff',
            font: {family: SERIF, weight: 'bold', size: 16},
            callback: v => tickLabel(p, v)
          },
          title: {display: true, text: p.unit, color: '#ffffff', font: {family: SERIF, weight: 'bold', size: 20}, padding: {top: 0, bottom: 4}}
        },
        x2: {
          type: 'linear', position: 'top', min: p.min, max: p.max,
          afterBuildTicks: s => { s.ticks = ticks.map(v => ({value: v})); },
          afterFit: s => { s.height = 42; s.paddingLeft = 0; s.paddingRight = 0; },
          grid: {drawOnChartArea: false, drawTicks: true, tickLength: 6, color: AXIS_COL, lineWidth: 1.5},
          border: {display: true, color: AXIS_COL, width: 2},
          ticks: {display: false}
        }
      }
    }
  });
}

panels.forEach(makePanel);

// ---------- frame: age axis, stage bands, zones, titles ----------
function drawFitted(ctx, text, rightX, y, font, targetW) {
  ctx.font = font;
  const w = ctx.measureText(text).width;
  ctx.save();
  ctx.translate(rightX - targetW, y);
  ctx.scale(targetW / w, 1);
  ctx.textAlign = 'left';
  ctx.textBaseline = 'middle';
  ctx.fillText(text, 0, 0);
  ctx.restore();
}

const decor = {
  id: 'decor',
  afterDraw(chart) {
    const {ctx, chartArea} = chart;
    const y = chart.scales.y;
    const py = v => y.getPixelForValue(v);
    const seg = (x1, y1, x2, y2) => { ctx.beginPath(); ctx.moveTo(x1, y1); ctx.lineTo(x2, y2); ctx.stroke(); };
    ctx.save();

    // glacial (even) stages
    ctx.fillStyle = 'rgba(255,255,255,0.11)';
    misNames.forEach((m, i) => {
      if (+m % 2 === 0) {
        ctx.fillRect(panels[0].left, py(misTops[i]), MIS_R - panels[0].left, py(misBottoms[i]) - py(misTops[i]));
      }
    });

    // panel borders
    ctx.strokeStyle = AXIS_COL;
    ctx.lineWidth = 1.5;
    panels.forEach(p => seg(p.left, chartArea.top, p.left, chartArea.bottom));
    seg(ZONE_L, chartArea.top, ZONE_L, chartArea.bottom);

    // zone boundaries
    zoneTops.slice(1).forEach((a, i) => {
      ctx.setLineDash(zoneLineSolid[i] ? [] : [9, 5]);
      ctx.lineWidth = zoneLineSolid[i] ? 2 : 1.5;
      seg(panels[0].left, py(a), MIS_L, py(a));
    });
    ctx.setLineDash([]);

    // MIS column
    ctx.lineWidth = 1.5;
    seg(MIS_L, py(misTops[0]), MIS_L, py(AGE_MAX));
    seg(MIS_R, py(misTops[0]), MIS_R, py(AGE_MAX));
    misTops.forEach(a => seg(MIS_L, py(a), MIS_R, py(a)));
    seg(MIS_L, py(AGE_MAX), MIS_R, py(AGE_MAX));

    ctx.fillStyle = '#ffffff';
    ctx.textAlign = 'center';
    ctx.textBaseline = 'middle';
    ctx.font = 'bold 22px ' + SERIF;
    misNames.forEach((m, i) => ctx.fillText(m, (MIS_L + MIS_R) / 2, py((misTops[i] + misBottoms[i]) / 2)));
    zoneNames.forEach((z, i) => ctx.fillText(z, (ZONE_L + MIS_L) / 2 + 1, py((zoneTops[i] + zoneBottoms[i]) / 2)));
    ctx.fillText('ZONES', (ZONE_L + MIS_L) / 2, 421);
    ctx.fillText('MIS', (MIS_L + MIS_R) / 2, 421);

    // axis title
    ctx.save();
    ctx.translate(53, 906);
    ctx.rotate(-Math.PI / 2);
    ctx.font = 'bold 29px ' + SERIF;
    ctx.fillText('Age (ka)', 0, 0);
    ctx.restore();

    // panel titles (tall, slanted lettering)
    ctx.font = 'italic 32px ' + SERIF;
    ctx.textAlign = 'left';
    ctx.textBaseline = 'alphabetic';
    panels.forEach(p => {
      ctx.save();
      ctx.translate(p.left - 15, 420);
      ctx.rotate(-44 * Math.PI / 180);
      ctx.scale(1.02, 1.18);
      ctx.fillText(p.title, 0, 0);
      ctx.restore();
    });

    // header
    ctx.fillStyle = '#978f8f';
    drawFitted(ctx, '569 m long and undisturbed sedimentary record covering history of more than 1.3 Ma.', 3300, 37, '31px "Open Sans"', 1380);
    drawFitted(ctx, 'In this study: between 366 and 296 mcd coresponding to1.050 Ma and 0.815 Ma.', 3305, 92, 'bold 31px "Open Sans"', 1370);
    ctx.restore();
  }
};

const frameCanvas = document.createElement('canvas');
frameCanvas.id = 'frame';
frameCanvas.width = 3364;
frameCanvas.height = 1364;
page.appendChild(frameCanvas);

const ageTicks = [];
for (let a = 815; a <= 1045; a += 5) ageTicks.push(a);

new Chart(frameCanvas, {
  type: 'line',
  data: {datasets: []},
  options: {
    responsive: false,
    animation: false,
    layout: {padding: {left: 36, top: 442, right: 72, bottom: 45}},
    plugins: {legend: {display: false}, tooltip: {enabled: false}},
    scales: {
      x: {type: 'linear', display: false, min: 0, max: 1},
      y: {
        type: 'linear', position: 'left', reverse: true, min: AGE_MIN, max: AGE_MAX,
        afterBuildTicks: s => { s.ticks = ageTicks.map(v => ({value: v})); },
        afterFit: s => { s.width = 110; s.paddingTop = 0; s.paddingBottom = 0; },
        grid: {drawOnChartArea: false, drawTicks: true, tickLength: 5, color: AXIS_COL, lineWidth: 1.5},
        border: {display: true, color: AXIS_COL, width: 2},
        ticks: {
          autoSkip: false, padding: 9, color: '#ffffff',
          font: {family: SERIF, weight: 'bold', size: 28},
          callback: v => (ageLabels.includes(String(v)) ? String(v) : '')
        }
      }
    }
  },
  plugins: [decor]
});
</script>
</body>
</html>
